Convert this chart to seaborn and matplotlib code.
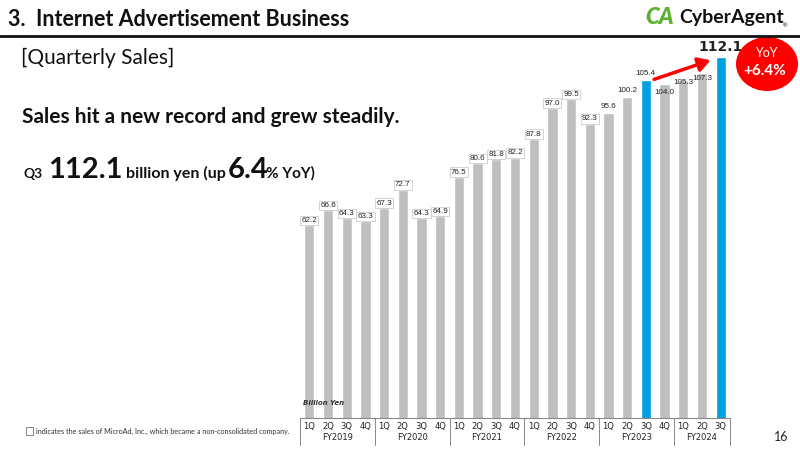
import matplotlib

matplotlib.use("Agg")

import matplotlib.pyplot as plt
import pandas as pd
import seaborn as sns
from matplotlib.patches import Ellipse, Rectangle

# data (billion yen)
years = ["FY2019", "FY2020", "FY2021", "FY2022", "FY2023", "FY2024"]
quarters = ["1Q", "2Q", "3Q", "4Q"]
sales = [
    62.2, 66.6, 64.3, 63.3,
    67.3, 72.7, 64.3, 64.9,
    76.5, 80.6, 81.8, 82.2,
    87.8, 97.0, 99.5, 92.3,
    95.6, 100.2, 105.4, 104.0,
    105.3, 107.3, 112.1,
]
microad_boxed = 16  # first quarters whose labels carry the MicroAd box
highlight = [18, 22]  # FY2023 3Q and FY2024 3Q

GREY = "#BFBFBF"
BLUE = "#00A0E0"
RED = "#FF0000"

sns.set_theme(style="white")
plt.rcParams["font.family"] = ["Lato", "DejaVu Sans"]

labels = []
for i in range(len(sales)):
    labels.append(f"{years[i // 4]} {quarters[i % 4]}")
df = pd.DataFrame({"label": labels, "sales": sales})
colors = [BLUE if i in highlight else GREY for i in range(len(sales))]

fig = plt.figure(figsize=(8, 4.5), dpi=100)


def px(x, y):
    return x / 800, 1 - y / 450


ax = fig.add_axes([300 / 800, 1 - 418 / 450, 430 / 800, 361 / 450])
sns.barplot(data=df, x="label", y="sales", hue="label", palette=colors,
            legend=False, width=0.55, saturation=1, ax=ax)
ax.set_xlim(-0.5, len(sales) - 0.5)
ax.set_ylim(5, 112.1)
ax.set_xlabel("")
ax.set_ylabel("")
ax.set_yticks([])
ax.set_xticks(range(len(sales)))
ax.set_xticklabels([quarters[i % 4] for i in range(len(sales))], fontsize=6, color="#222222",
                   family="DejaVu Sans")
ax.tick_params(axis="x", length=0, pad=3)
for s in ["top", "right", "left"]:
    ax.spines[s].set_visible(False)
ax.spines["bottom"].set_color("#888888")
ax.spines["bottom"].set_linewidth(0.8)

# value labels
inside = {19: -2.3, 20: -0.9, 21: -1.5}  # labels sitting on the bar top
for i, v in enumerate(sales):
    if i == 22:
        continue
    kw = dict(ha="center", fontsize=5.8, color="#222222", family="Liberation Sans")
    if i < microad_boxed:
        ax.text(i, v + 0.4, f"{v:.1f}", va="bottom", bbox=dict(boxstyle="square,pad=0.15",
                fc="white", ec="#CCCCCC", lw=0.6), **kw)
    elif i in inside:
        ax.text(i, v + inside[i], f"{v:.1f}", va="center", **kw)
    else:
        ax.text(i, v + 0.8, f"{v:.1f}", va="bottom", **kw)
ax.text(22, 113.0, f"{sales[22]:.1f}", ha="center", va="bottom", fontsize=10,
        fontweight="bold", color="#222222", clip_on=False, family="DejaVu Sans")

# growth arrow
ax.annotate("", xy=(21.6, 111.4), xytext=(18.3, 105.2),
            arrowprops=dict(arrowstyle="-|>,head_length=0.6,head_width=0.35", color=RED, lw=2.5),
            annotation_clip=False)

# fiscal-year table under the bars
tr = ax.get_xaxis_transform()
for k in range(len(years) + 1):
    x = min(k * 4, len(sales)) - 0.5
    ax.plot([x, x], [0, -0.075], transform=tr, color="#888888", lw=0.7, clip_on=False)
for k, y in enumerate(years):
    center = (k * 4 + min(k * 4 + 3, len(sales) - 1)) / 2
    ax.text(center, -0.055, y, transform=tr, ha="center", va="center", fontsize=6,
            color="#222222", family="DejaVu Sans")
ax.text(-0.35, 0.035, "Billion Yen", transform=tr, fontsize=5, style="italic",
        fontweight="bold", color="#333333", family="DejaVu Sans")

# header
fig.text(*px(8, 20), "3.  Internet Advertisement Business", fontsize=15.5, fontweight="bold",
         va="center", ha="left", color="#111111")
fig.add_artist(plt.Line2D([0, 1], [1 - 36 / 450] * 2, color="#111111", lw=2))
fig.text(*px(645, 18), "CA", fontsize=16, fontweight="heavy", color="#5DB12F",
         va="center", ha="left", style="italic")
fig.text(*px(679, 18), "CyberAgent", fontsize=14, fontweight="bold", color="#111111",
         va="center", ha="left")
fig.text(*px(783, 26), "®", fontsize=4, color="#111111", va="center", ha="left")
fig.text(*px(21, 58), "[Quarterly Sales]", fontsize=15, va="center", ha="left", color="#111111")
fig.text(*px(22, 117), "Sales hit a new record and grew steadily.", fontsize=15,
         fontweight="bold", va="center", ha="left", color="#111111")

# headline figure
y0 = 1 - 178 / 450
fig.text(24 / 800, y0, "Q3", fontsize=10, fontweight="bold", va="baseline", color="#111111")
fig.text(48 / 800, y0, "112.1", fontsize=21, fontweight="bold", va="baseline", color="#111111")
fig.text(126 / 800, y0, "billion yen (up", fontsize=11.5, fontweight="bold", va="baseline",
         color="#111111")
fig.text(228 / 800, y0, "6.4", fontsize=21, fontweight="bold", va="baseline", color="#111111")
fig.text(266 / 800, y0, "% YoY)", fontsize=11, fontweight="bold", va="baseline", color="#111111")

# YoY bubble
fig.add_artist(Ellipse(px(767, 64), 62 / 800, 54 / 450, transform=fig.transFigure,
                       fc=RED, ec="none"))
fig.text(*px(766, 53), "YoY", fontsize=9, color="white", ha="center", va="center")
fig.text(*px(765, 71), "+6.4%", fontsize=11, fontweight="bold", color="white",
         ha="center", va="center")

# footnote and page number
fig.add_artist(Rectangle(px(26, 435), 7 / 800, 8 / 450, transform=fig.transFigure,
                         fc="white", ec="#888888", lw=0.7))
fig.text(*px(36, 431), "indicates the sales of MicroAd, Inc., which became a non-consolidated company.",
         fontsize=5.2, va="center", ha="left", color="#333333")
fig.text(*px(788, 437), "16", fontsize=9, va="center", ha="right", color="#222222")

fig.savefig("out.png", dpi=100)
